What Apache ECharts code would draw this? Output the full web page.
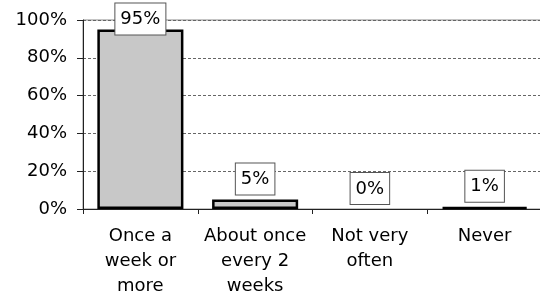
<!DOCTYPE html>
<html>
<head>
<meta charset="utf-8">
<script src="https://cdn.jsdelivr.net/npm/echarts@6/dist/echarts.min.js"></script>
<style>
  html, body { margin: 0; padding: 0; background: #fff; }
  #chart { width: 540px; height: 296px; }
</style>
</head>
<body>
<div id="chart"></div>
<script>
// data
var categories = ['Once a\nweek or\nmore', 'About once\nevery 2\nweeks', 'Not very\noften', 'Never']
var values = [95, 5, 0, 1]
var yTicks = [0, 20, 40, 60, 80, 100]

var FONT = 'DejaVu Sans'

var chart = echarts.init(document.getElementById('chart'))

var option = {
  backgroundColor: '#ffffff',
  animation: false,
  grid: {
    left: 83, right: -2, top: 20, bottom: 87,
    outerBoundsMode: 'none',
    containLabel: false,
    show: true, borderColor: '#8a8a8a', borderWidth: 1
  },
  xAxis: {
    type: 'category',
    data: categories,
    axisLine: { lineStyle: { color: '#222', width: 1 } },
    axisTick: { show: true, length: 5, lineStyle: { color: '#222' } },
    axisLabel: {
      interval: 0,
      margin: 15,
      fontFamily: FONT,
      fontSize: 18,
      lineHeight: 25,
      color: '#000'
    }
  },
  yAxis: {
    type: 'value',
    min: yTicks[0],
    max: yTicks[yTicks.length - 1],
    interval: 20,
    axisLine: { show: true, lineStyle: { color: '#222', width: 1 } },
    axisTick: { show: true, length: 6, lineStyle: { color: '#222' } },
    axisLabel: {
      margin: 16,
      fontFamily: FONT,
      fontSize: 18,
      color: '#000',
      formatter: '{value}%'
    },
    splitLine: {
      show: true,
      lineStyle: { color: '#666', width: 1, type: [3, 2] }
    }
  },
  series: [{
    type: 'bar',
    barCategoryGap: '25%',
    itemStyle: { color: '#c8c8c8', borderColor: '#000', borderWidth: 2.5 },
    label: {
      show: true,
      position: 'top',
      distance: 5,
      formatter: '{c}%',
      fontFamily: FONT,
      fontSize: 18,
      color: '#000',
      backgroundColor: '#fff',
      borderColor: '#555',
      borderWidth: 1,
      padding: [7, 5, 6, 5]
    },
    // labels near the top get pushed down so they stay inside the chart,
    // empty bars get no outline
    data: values.map(function (v) {
      if (v > 90) return { value: v, label: { offset: [0, 10] } }
      if (v === 0) return { value: v, itemStyle: { borderWidth: 0 } }
      return v
    })
  }]
}

chart.setOption(option)
</script>
</body>
</html>
